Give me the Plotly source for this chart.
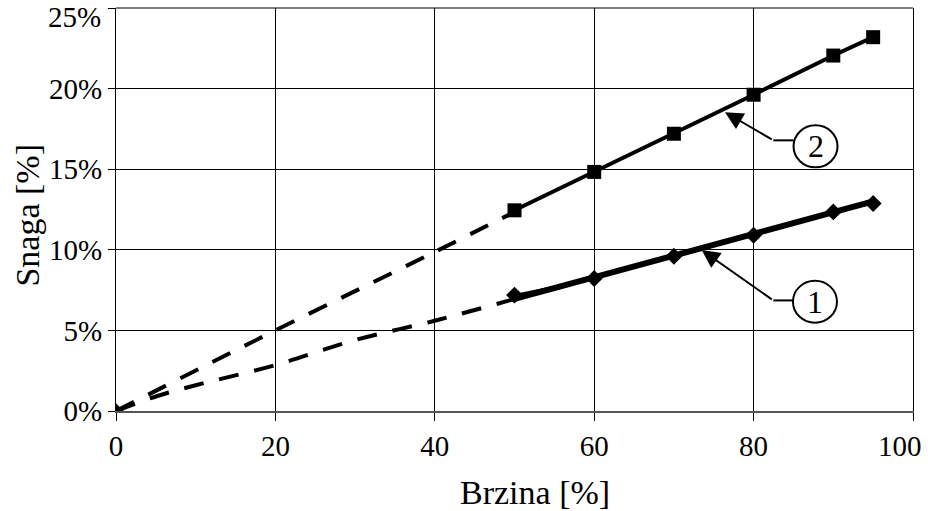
import plotly.graph_objects as go

# brzina (x) u %, snaga (y) kao udio
brzina = [50, 60, 70, 80, 90, 95]
snaga_1 = [0.0719, 0.0822, 0.0960, 0.1090, 0.1235, 0.1287]
snaga_2 = [0.1245, 0.1483, 0.1720, 0.1962, 0.2205, 0.2319]

# linearna aproksimacija krivulje 1
fit_1_x = [50, 95]
fit_1_y = [0.0695, 0.1300]

# ekstrapolacija prema ishodištu (isprekidano)
ext_1_x = [0, 5, 10, 20, 30, 40, 50]
ext_1_y = [0.0, 0.009, 0.016, 0.0285, 0.044, 0.056, 0.0695]
ext_2_x = [0, 20, 40, 50]
ext_2_y = [0.0, 0.050, 0.0987, 0.1235]

x_ticks = [0, 20, 40, 60, 80, 100]
x_labels = ['0', '20', '40', '60', '80', '100']
y_ticks = [0, 0.05, 0.10, 0.15, 0.20, 0.25]
y_labels = ['0%', '5%', '10%', '15%', '20%', '25%']

FONT = "Liberation Serif"

fig = go.Figure()

fig.add_trace(go.Scatter(x=ext_2_x, y=ext_2_y, mode='lines', line=dict(color='black', width=4, dash='20px,16px', shape='spline')))
fig.add_trace(go.Scatter(x=ext_1_x, y=ext_1_y, mode='lines', line=dict(color='black', width=4, dash='20px,16px', shape='spline')))
fig.add_trace(go.Scatter(x=fit_1_x, y=fit_1_y, mode='lines', line=dict(color='black', width=6)))
fig.add_trace(go.Scatter(x=brzina, y=snaga_1, mode='lines+markers', line=dict(color='black', width=2),
                         marker=dict(symbol='diamond', size=13, color='black')))
fig.add_trace(go.Scatter(x=brzina, y=snaga_2, mode='lines+markers', line=dict(color='black', width=4),
                         marker=dict(symbol='square', size=14, color='black')))
fig.add_trace(go.Scatter(x=[0], y=[0], mode='markers', marker=dict(symbol='diamond', size=12, color='black')))

# oznake krivulja: (oznaka, centar kruga, koljeno, vrh strelice)
labels = [
    ('1', (87.7, 0.0678), (82.47, 0.0686), (73.49, 0.0998)),
    ('2', (87.77, 0.1642), (82.47, 0.1679), (76.41, 0.1854)),
]
shapes = []
annotations = []
for txt, (cx, cy), (ex, ey), (tx, ty) in labels:
    shapes.append(dict(type='circle', xref='x', yref='y', xsizemode='pixel', ysizemode='pixel',
                       xanchor=cx, yanchor=cy, x0=-22, x1=22, y0=-21, y1=21,
                       line=dict(color='black', width=2), fillcolor='white', layer='above'))
    shapes.append(dict(type='line', xref='x', yref='y', x0=ex, y0=ey, x1=cx - 2.75, y1=ey,
                       line=dict(color='black', width=2)))
    annotations.append(dict(x=cx, y=cy, text=txt, showarrow=False, font=dict(family=FONT, size=32, color='black')))
    annotations.append(dict(x=tx, y=ty, ax=ex, ay=ey, axref='x', ayref='y', text='', showarrow=True,
                            arrowhead=2, arrowsize=1.8, arrowwidth=2, arrowcolor='black', standoff=0))

# krajnje oznake osi pomaknute da stanu u sliku
annotations.append(dict(xref='paper', x=0, xshift=-13, xanchor='right', y=y_ticks[-1], yshift=-9,
                        text=y_labels[-1], showarrow=False, font=dict(family=FONT, size=29, color='black')))
annotations.append(dict(x=x_ticks[-1], yref='paper', y=0, xanchor='right', xshift=11, yanchor='top', yshift=-17,
                        text=x_labels[-1], showarrow=False, font=dict(family=FONT, size=29, color='black')))
y_ticktext = y_labels[:-1] + ['']
x_ticktext = x_labels[:-1] + ['']

# naslovi osi
annotations.append(dict(xref='paper', yref='paper', x=0.5257, y=0, yshift=-81, yanchor='middle',
                        text='Brzina [%]', showarrow=False, font=dict(family=FONT, size=34, color='black')))
annotations.append(dict(xref='paper', yref='paper', x=0, xshift=-88, y=0.485, xanchor='center', yanchor='middle',
                        textangle=-90, text='Snaga [%]', showarrow=False, font=dict(family=FONT, size=34, color='black')))

shapes.append(dict(type='line', xref='paper', yref='paper', x0=0, x1=1, y0=1, y1=1,
                   line=dict(color='black', width=1)))

fig.update_layout(
    width=928, height=511,
    margin=dict(l=116, r=15, t=8, b=100, autoexpand=False),
    paper_bgcolor='white', plot_bgcolor='white',
    showlegend=False,
    font=dict(family=FONT, size=29, color='black'),
    xaxis=dict(range=[0, 100], tickvals=x_ticks, ticktext=x_ticktext, showgrid=True, gridcolor='black', gridwidth=1,
               zeroline=False, showline=True, linecolor='#555', linewidth=2,
               ticks='outside', ticklen=8, tickcolor='black', ticklabeloverflow='allow'),
    yaxis=dict(range=[0, 0.25], tickvals=y_ticks, ticktext=y_ticktext, showgrid=True, gridcolor='black', gridwidth=1,
               zeroline=False, showline=True, linecolor='black', linewidth=1, mirror=True,
               ticks='outside', ticklen=7, tickcolor='black', ticklabeloverflow='allow'),
    shapes=shapes,
    annotations=annotations,
)

# bez margine tijela stranice, da figura stane u prozor
fig.write_html("out.html", config={'displayModeBar': False},
               post_script="document.body.style.margin='0';")
